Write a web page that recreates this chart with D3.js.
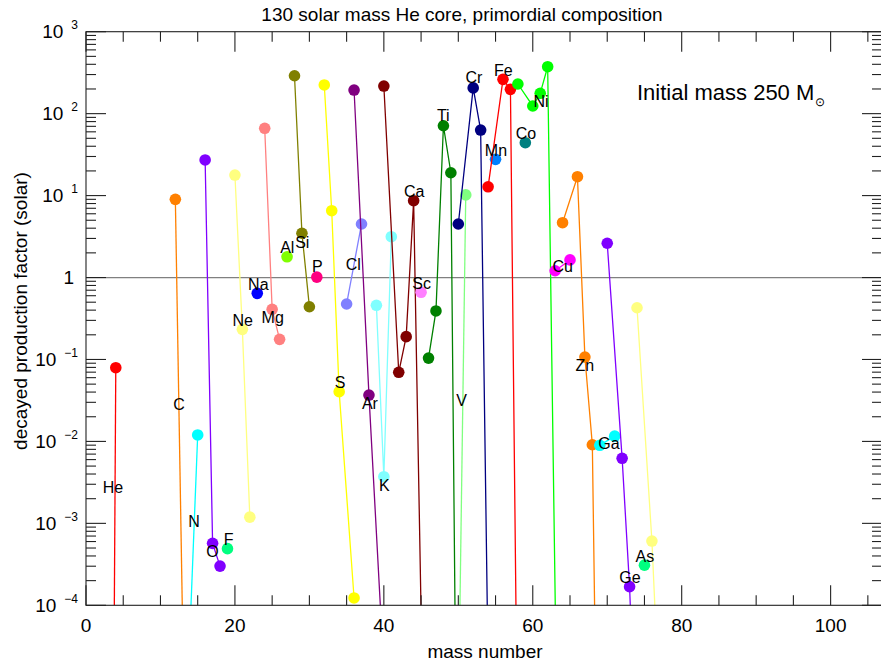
<!DOCTYPE html>
<html>
<head>
<meta charset="utf-8">
<script src="https://cdn.jsdelivr.net/npm/d3@7"></script>
<style>
  body { margin: 0; background: #fff; }
  text { font-family: "Liberation Sans", Arial, Helvetica, sans-serif; fill: #000; }
</style>
</head>
<body>
<svg id="chart" width="881" height="666"></svg>
<script>
// ---- chart data -------------------------------------------------------
const chartTitle = "130 solar mass He core, primordial composition";
const xAxisTitle = "mass number";
const yAxisTitle = "decayed production factor (solar)";
const noteText = "Initial mass 250 M";

// elements shown, lightest first
const elements = ["He","C","N","O","F","Ne","Na","Mg","Al","Si","P","S","Cl","Ar","K",
                  "Ca","Sc","Ti","V","Cr","Mn","Fe","Co","Ni","Cu","Zn","Ga","Ge","As","Se"];

// stable (and long-lived) isotope mass numbers of each element
const isotopeMasses = [
  [3,4], [12,13], [14,15], [16,17,18], [19], [20,21,22], [23], [24,25,26], [27],
  [28,29,30], [31], [32,33,34,36], [35,37], [36,38,40], [39,40,41],
  [40,42,43,44,46,48], [45], [46,47,48,49,50], [50,51], [50,52,53,54], [55],
  [54,56,57,58], [59], [58,60,61,62,64], [63,65], [64,66,67,68,70], [69,71],
  [70,72,73,74,76], [75], [74,76,77,78,80,82]
];

// decayed production factors relative to solar, same order as isotopeMasses
const productionFactors = [
  [1e-16, 0.0794],
  [9.0, 4.2e-5],
  [5.9e-5, 0.012],
  [27.2, 5.7e-4, 3.01e-4],
  [4.91e-4],
  [17.8, 0.233, 1.19e-3],
  [0.641],
  [66.2, 0.409, 0.176],
  [1.79],
  [290, 3.47, 0.44],
  [1.01],
  [224, 6.54, 0.0404, 1.23e-4],
  [0.475, 4.5],
  [194, 0.0368, 1.6e-5],
  [0.458, 3.71e-3, 3.15],
  [217, 0.0697, 0.19, 8.66, 8e-10, 1e-12],
  [0.66],
  [0.104, 0.391, 71.2, 19.0, 5e-9],
  [3.9e-6, 10.2],
  [4.5, 206, 63.1, 1.8e-5],
  [27.7],
  [12.8, 262, 198, 6e-7],
  [44.2],
  [230, 124, 177, 374, 5e-11],
  [1.21, 1.64],
  [4.67, 17.0, 0.107, 9.1e-3, 1e-15],
  [8.96e-3, 0.0116],
  [2.62, 6.22e-3, 1.69e-4, 7e-7, 1e-10],
  [3.09e-4],
  [0.428, 6.08e-4, 6e-6, 1e-8, 1e-11, 1e-14]
];

// where each element name is written (mass number, production factor)
const labelMass   = [3.63, 12.49, 14.5, 17.0, 19.16, 21.04, 23.14, 25.07, 27.03, 29.05,
                     31.06, 34.11, 35.89, 38.13, 40.06, 44.09, 45.08, 47.98, 50.45, 52.1,
                     55.06, 56.04, 59.08, 61.1, 64.01, 67.0, 70.23, 73.05, 75.06, null];
const labelFactor = [2.77e-3, 0.0286, 1.05e-3, 4.6e-4, 6.4e-4, 0.303, 0.834, 0.327, 2.34, 2.72,
                     1.38, 0.0526, 1.45, 0.0292, 2.94e-3, 11.4, 0.851, 96.2, 0.032, 275,
                     36.0, 341, 57.5, 140, 1.36, 0.0855, 9.55e-3, 2.19e-4, 3.99e-4, null];

const xTicks = [0, 20, 40, 60, 80, 100];
const yDecades = [-4, -3, -2, -1, 0, 1, 2, 3];

// ---- styling ------------------------------------------------------------
// colour cycles with atomic number (period 24)
const elementColors = {
  He:"#ff0000", C:"#ff8000", N:"#00ffff", O:"#8000ff", F:"#00ff80", Ne:"#ffff80",
  Na:"#0000ff", Mg:"#ff8080", Al:"#80ff00", Si:"#808000", P:"#ff0080", S:"#ffff00",
  Cl:"#8080ff", Ar:"#800080", K:"#80ffff", Ca:"#800000", Sc:"#ff80ff", Ti:"#008000",
  V:"#80ff80", Cr:"#000080", Mn:"#0080ff", Fe:"#ff0000", Co:"#008080", Ni:"#00ff00",
  Cu:"#ff00ff", Zn:"#ff8000", Ga:"#00ffff", Ge:"#8000ff", As:"#00ff80", Se:"#ffff80"
};

const plot = { left: 86, right: 882, top: 31.7, bottom: 605.3 };

const svg = d3.select("#chart");

const x = d3.scaleLinear().domain([0, 106.9]).range([plot.left, plot.right]);
const y = d3.scaleLog().domain([1e-4, 1e3]).range([plot.bottom, plot.top]);

svg.append("defs").append("clipPath").attr("id", "plotClip")
  .append("rect")
  .attr("x", plot.left).attr("y", plot.top)
  .attr("width", plot.right - plot.left).attr("height", plot.bottom - plot.top);

// reference line at a production factor of 1
svg.append("line")
  .attr("x1", plot.left).attr("x2", plot.right)
  .attr("y1", y(1)).attr("y2", y(1))
  .attr("stroke", "#808080").attr("stroke-width", 1.2);

// ---- isotope chains -------------------------------------------------------
const series = elements.map((el, i) => ({
  element: el,
  points: isotopeMasses[i].map((m, j) => ({ mass: m, factor: productionFactors[i][j] }))
}));

const marks = svg.append("g").attr("clip-path", "url(#plotClip)");
const line = d3.line().x(d => x(d.mass)).y(d => y(d.factor));

series.forEach(s => {
  const g = marks.append("g");
  const col = elementColors[s.element];
  if (s.points.length > 1) {
    g.append("path")
      .attr("d", line(s.points))
      .attr("fill", "none")
      .attr("stroke", col)
      .attr("stroke-width", 1.3);
  }
  g.selectAll("circle")
    .data(s.points.filter(p => p.factor >= 1e-4 && p.factor <= 1e3))
    .join("circle")
    .attr("cx", d => x(d.mass))
    .attr("cy", d => y(d.factor))
    .attr("r", 5.8)
    .attr("fill", col);
});

// element names
svg.append("g").selectAll("text")
  .data(elements.map((el, i) => ({ el, m: labelMass[i], f: labelFactor[i] })).filter(d => d.m !== null))
  .join("text")
  .attr("x", d => x(d.m))
  .attr("y", d => y(d.f))
  .attr("dy", "0.36em")
  .attr("text-anchor", "middle")
  .attr("font-size", 16)
  .text(d => d.el);

// ---- axes -------------------------------------------------------------------
const axes = svg.append("g").attr("stroke", "#222").attr("stroke-width", 1.1);

axes.append("rect")
  .attr("x", plot.left).attr("y", plot.top)
  .attr("width", plot.right - plot.left).attr("height", plot.bottom - plot.top)
  .attr("fill", "none");

const xMinor = d3.range(0, 107, 5).filter(v => !xTicks.includes(v));
const xAll = xTicks.map(v => ({ v, len: 20 })).concat(xMinor.map(v => ({ v, len: 10 })));
xAll.forEach(t => {
  axes.append("line").attr("x1", x(t.v)).attr("x2", x(t.v))
    .attr("y1", plot.bottom).attr("y2", plot.bottom - t.len);
  axes.append("line").attr("x1", x(t.v)).attr("x2", x(t.v))
    .attr("y1", plot.top).attr("y2", plot.top + t.len);
});

const yAll = yDecades.map(e => ({ v: Math.pow(10, e), len: 20 }));
yDecades.slice(0, -1).forEach(e => {
  for (let k = 2; k <= 9; k++) yAll.push({ v: k * Math.pow(10, e), len: 10 });
});
yAll.forEach(t => {
  axes.append("line").attr("x1", plot.left).attr("x2", plot.left + t.len)
    .attr("y1", y(t.v)).attr("y2", y(t.v));
  axes.append("line").attr("x1", plot.right).attr("x2", plot.right - t.len)
    .attr("y1", y(t.v)).attr("y2", y(t.v));
});

// x tick labels
svg.append("g").selectAll("text")
  .data(xTicks)
  .join("text")
  .attr("x", d => x(d))
  .attr("y", 632)
  .attr("text-anchor", "middle")
  .attr("font-size", 19)
  .text(d => d);

// y tick labels as powers of ten
const yLab = svg.append("g");
yDecades.forEach(e => {
  const t = yLab.append("text")
    .attr("x", 78)
    .attr("y", y(Math.pow(10, e)))
    .attr("dy", "0.35em")
    .attr("text-anchor", "end")
    .attr("font-size", 19);
  if (e === 0) {
    t.attr("x", 74).text("1");
  } else {
    t.append("tspan").text("10");
    t.append("tspan")
      .attr("dx", 8).attr("dy", -9)
      .attr("font-size", 12)
      .text(e < 0 ? "\u2212" + Math.abs(e) : String(e));
  }
});

// titles
svg.append("text")
  .attr("x", 462).attr("y", 21)
  .attr("text-anchor", "middle")
  .attr("font-size", 19)
  .text(chartTitle);

svg.append("text")
  .attr("x", 485).attr("y", 658)
  .attr("text-anchor", "middle")
  .attr("font-size", 19)
  .text(xAxisTitle);

svg.append("text")
  .attr("transform", "translate(27,311) rotate(-90)")
  .attr("text-anchor", "middle")
  .attr("font-size", 19)
  .text(yAxisTitle);

const note = svg.append("text")
  .attr("x", 637).attr("y", 100)
  .attr("font-size", 22);
note.append("tspan").text(noteText);
note.append("tspan")
  .attr("dx", 1).attr("dy", 6)
  .attr("font-size", 12)
  .text("\u2299");
</script>
</body>
</html>
